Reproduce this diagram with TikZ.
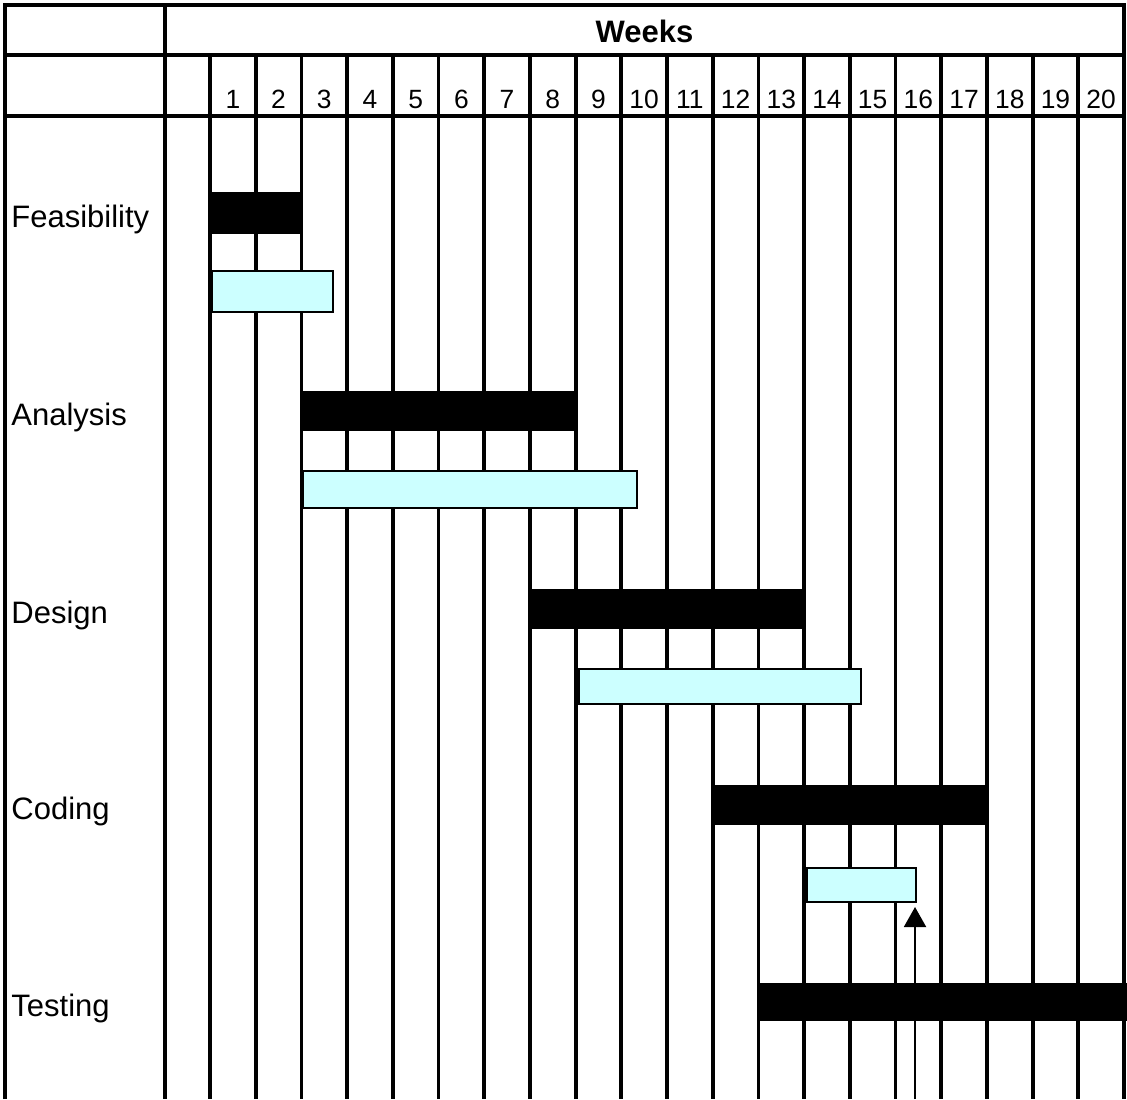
\documentclass[tikz,border=0pt]{standalone}
\usepackage{fontspec}
\setmainfont{Liberation Sans}
\usetikzlibrary{arrows.meta}

\definecolor{plancyan}{HTML}{CCFFFF}
\tikzset{
    gridline/.style={line width=1.9pt, line join=miter},
    donebar/.style={fill=black},
    planbar/.style={fill=plancyan, draw=black, line width=1.1pt},
    task/.style={anchor=base west, inner sep=0pt, font=\fontsize{15.5}{18}\selectfont},
    weeknum/.style={anchor=base, inner sep=0pt, font=\fontsize{13.2}{15}\selectfont},
}

\begin{document}
\begin{tikzpicture}[x=0.5pt, y=-0.5pt]
    \useasboundingbox (0,0) rectangle (1127,1099);

    % frame and header rows
    \draw[gridline] (5,1099) -- (5,5) -- (1124,5) -- (1124,1099);
    \draw[gridline] (5,55) -- (1124,55);
    \draw[gridline] (5,116) -- (1124,116);
    \draw[gridline] (165,5) -- (165,1099);

    % week columns
    \foreach \k in {0,...,19}
        \draw[gridline] ({210+45.7*\k},55) -- ({210+45.7*\k},1099);

    \node[font=\bfseries\fontsize{15.5}{18}\selectfont, anchor=base, inner sep=0pt] (weeks) at (644.5,42) {Weeks};
    \foreach \k in {1,...,20}
        \node[weeknum] (w\k) at ({210+45.7*(\k-0.5)},108) {\k};

    % tasks
    \node[task] (feasibility) at (11,227) {Feasibility};
    \node[task] (analysis) at (11,425) {Analysis};
    \node[task] (design) at (11,623) {Design};
    \node[task] (coding) at (11,819) {Coding};
    \node[task] (testing) at (11,1016) {Testing};

    % bars
    \fill[donebar] (210,192) rectangle (302,234);
    \draw[planbar] (212,271) rectangle (333,312);

    \fill[donebar] (301,391) rectangle (576,431);
    \draw[planbar] (303,471) rectangle (637,508);

    \fill[donebar] (530,589) rectangle (805,629);
    \draw[planbar] (579,669) rectangle (861,704);

    \fill[donebar] (713,785) rectangle (988,825);
    \draw[planbar] (807,868) rectangle (916,902);

    \fill[donebar] (758,983) rectangle (1127,1021);

    % today marker
    \coordinate (foot) at (915,1099);
    \coordinate (now) at (915,907);
    \draw[line width=1pt, -{Triangle[width=11pt, length=10pt]}] (foot) -- (now);
\end{tikzpicture}
\end{document}
